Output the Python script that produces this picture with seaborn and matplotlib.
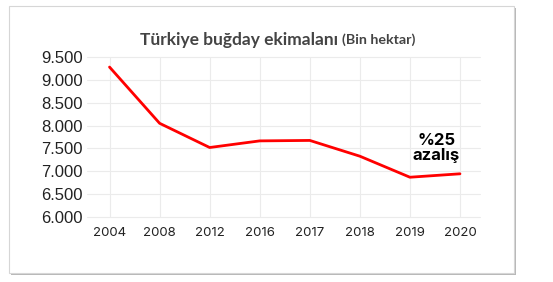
import matplotlib
matplotlib.use("Agg")
import matplotlib.pyplot as plt
from matplotlib.patches import Rectangle
import seaborn as sns
import pandas as pd

years = ["2004", "2008", "2012", "2016", "2017", "2018", "2019", "2020"]
area = [9280, 8050, 7520, 7665, 7675, 7330, 6870, 6945]
yticks = [6000, 6500, 7000, 7500, 8000, 8500, 9000, 9500]
ytick_labels = ["6.000", "6.500", "7.000", "7.500", "8.000", "8.500", "9.000", "9.500"]
title_main = "Türkiye buğday ekimalanı"
title_unit = "(Bin hektar)"
note = "%25\nazalış"

sns.set_theme(style="white")
plt.rcParams["font.family"] = ["Inter", "DejaVu Sans"]

W, H = 553, 282
fig = plt.figure(figsize=(W / 100, H / 100), dpi=100)
fig.patch.set_facecolor("white")

# card with shadow
def box(x0, y0, x1, y1):
    return (x0 / W, 1 - y1 / H, (x1 - x0) / W, (y1 - y0) / H)

sx, sy, sw, sh = box(11, 8, 516, 275)
fig.patches.append(Rectangle((sx, sy), sw, sh, transform=fig.transFigure,
                             facecolor="#b8b8b8", edgecolor="none", zorder=-2))
cx, cy, cw, ch = box(9, 6, 514, 273)
fig.patches.append(Rectangle((cx, cy), cw, ch, transform=fig.transFigure,
                             facecolor="white", edgecolor="#d6d6d6", linewidth=0.8, zorder=-1))

ax = fig.add_axes(box(87, 57, 480, 217))
ax.set_facecolor("none")
ax.set_zorder(1)

df = pd.DataFrame({"year": years, "area": area})
sns.lineplot(data=df, x="year", y="area", sort=False, color="#ff0000", linewidth=2.0, ax=ax)

ax.set_xlim(-0.45, 7.4)
ax.set_ylim(6000, 9500)
ax.set_yticks(yticks)
ax.set_yticklabels(ytick_labels, fontfamily="Liberation Sans", fontsize=12, color="#222222")
for lab in ax.get_xticklabels():
    lab.set_fontsize(9.5)
    lab.set_color("#222222")
ax.tick_params(axis="x", pad=7, length=0)
ax.tick_params(axis="y", pad=3, length=0)
ax.grid(True, color="#ebebeb", linewidth=0.8)
for gl in ax.get_ygridlines() + ax.get_xgridlines():
    gl.set_clip_on(False)
for s in ax.spines.values():
    s.set_visible(False)
ax.set_xlabel("")
ax.set_ylabel("")

fig.text(338 / W, 1 - 40 / H, title_main, ha="right", va="center",
         fontsize=12.5, fontweight="bold", color="#444444", zorder=2,
         family=["Lato", "DejaVu Sans"])
fig.text(342 / W, 1 - 40 / H, title_unit, ha="left", va="center",
         fontsize=10.3, fontweight="bold", color="#444444", zorder=2,
         family=["Lato", "DejaVu Sans"])

ax.text(6.53, 7830, note, ha="center", va="top", fontsize=12,
        fontweight="bold", color="#000000", linespacing=1.0)

fig.savefig("out.png", dpi=100, facecolor="white")
